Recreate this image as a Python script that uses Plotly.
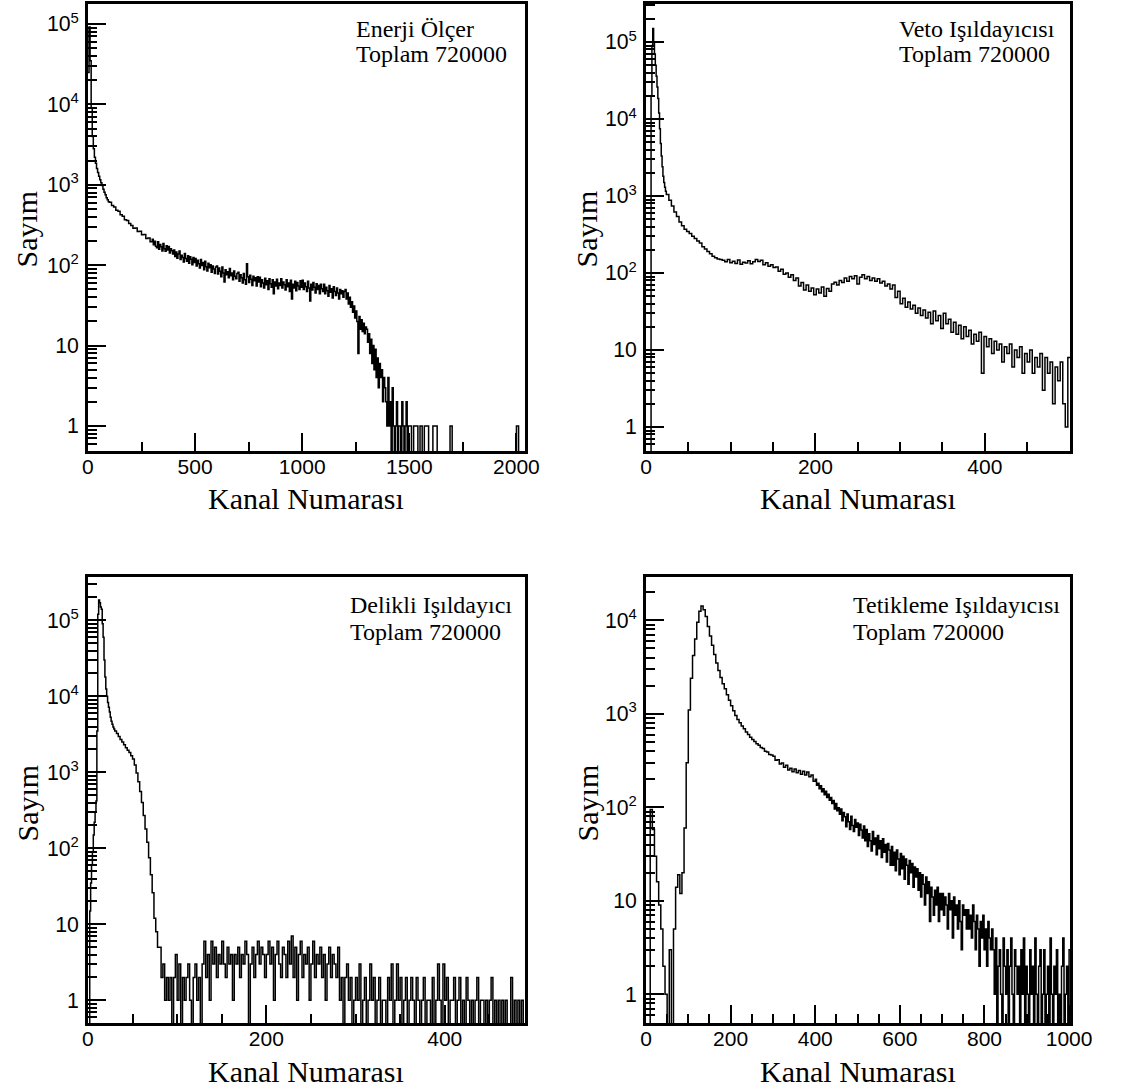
import plotly.graph_objects as go

W, H = 1147, 1090

# ---------------- DATA ----------------
# Panel 1: Enerji Ölçer
enerji_0 = [25000, 92000, 35000, 9000, 4000, 2800, 2200, 1850, 1600, 1420,
            1280, 1160, 1060, 980, 880, 810, 750, 690, 650, 615]          # ch 0-99, 5-ch bins
enerji_1 = [605, 552, 528, 482, 468, 425, 406, 368, 360, 330,
            312, 288, 290, 262, 265, 240, 241, 215, 218, 196]              # ch 100-299, 10-ch bins
enerji_2 = [                                                               # ch 300-1299, 5-ch bins
    210, 180, 198, 172, 165, 196, 158, 181, 170, 150, 186, 160, 149, 175, 155, 171, 142, 160, 151, 138,
    155, 128, 146, 122, 138, 150, 118, 133, 125, 110, 140, 121, 112, 131, 106, 127, 119, 101, 125, 108,
    121, 98, 115, 104, 92, 118, 99, 108, 88, 112, 96, 85, 106, 93, 101, 82, 98, 90, 79, 95,
    98, 78, 92, 84, 72, 95, 80, 62, 88, 76, 83, 70, 91, 74, 80, 66, 85, 73, 68, 79,
    82, 63, 76, 70, 60, 79, 66, 58, 104, 72, 61, 75, 67, 56, 73, 64, 70, 55, 72, 62,
    71, 54, 66, 60, 52, 69, 57, 64, 50, 68, 59, 53, 66, 44, 62, 55, 67, 51, 60, 56,
    68, 52, 62, 57, 49, 66, 54, 60, 47, 65, 38, 58, 52, 63, 48, 61, 55, 50, 64, 53,
    65, 50, 60, 54, 47, 63, 52, 36, 58, 49, 61, 53, 45, 59, 50, 56, 44, 58, 51, 47,
    58, 44, 53, 48, 41, 56, 46, 51, 39, 54, 47, 42, 52, 45, 38, 50, 44, 48, 40, 47,
    50, 38, 45, 33, 40, 30, 35, 26, 31, 22, 27, 20, 8, 23, 16, 21, 15, 19, 14, 17]
enerji_3 = [                                                               # ch 1300-1499, 5-ch bins
    16, 11, 14, 8, 12, 6, 10, 5, 9, 4, 7, 3, 6, 4, 5, 2, 4, 3, 2, 1,
    4, 1, 2, 0, 3, 1, 0, 1, 2, 0, 1, 1, 0, 2, 1, 0, 1, 2, 0, 1]
enerji_4 = [                                                               # ch 1500-2049, 10-ch bins
    1, 0, 1, 1, 0, 1, 0, 1, 1, 0,
    0, 1, 1, 0, 0, 0, 0, 0, 0, 1,
    0, 0, 0, 0, 0, 0, 0, 0, 0, 0,
    0, 0, 0, 0, 0, 0, 0, 0, 0, 0,
    0, 0, 0, 0, 0, 0, 0, 0, 0, 0,
    1, 0, 0, 0, 0]

# Panel 2: Veto Işıldayıcısı
veto_0 = [0, 0, 0, 0, 0, 0, 20000, 90000, 150000, 100000, 70000, 50000,
          36000, 26000, 18500, 12000, 7500, 4800, 3300, 2400, 1800, 1500, 1300, 1150]  # ch 0-23
veto_1 = [                                                                 # ch 24-500, 3-ch bins
    1050, 880, 740, 620, 540, 460, 410, 370, 345, 325,
    300, 280, 260, 245, 220, 205, 190, 178, 165, 158,
    152, 150, 146, 140, 150, 136, 142, 133, 148, 130,
    138, 135, 144, 132, 140, 150, 141, 146, 128, 136,
    122, 128, 118, 120, 105, 112, 96, 100, 88, 95,
    80, 86, 68, 75, 60, 70, 58, 64, 52, 62,
    55, 66, 50, 63, 58, 72, 76, 70, 80, 75,
    86, 78, 90, 84, 92, 72, 88, 95, 84, 90,
    80, 86, 78, 84, 74, 78, 68, 72, 62, 70,
    48, 58, 40, 47, 36, 42, 34, 38, 30, 35,
    28, 33, 26, 31, 22, 32, 24, 28, 19, 30,
    22, 25, 17, 23, 16, 21, 14, 20, 15, 18,
    12, 16, 13, 17, 5, 15, 11, 14, 9, 13,
    10, 12, 7, 11, 9, 12, 6, 10, 8, 11,
    5, 9, 7, 10, 5, 8, 6, 9, 3, 8,
    5, 7, 2, 6, 4, 7, 2, 1, 8]

# Panel 3: Delikli Işıldayıcı
delikli_0 = [0, 0, 15, 35, 60, 90, 150, 220, 300, 420, 3500, 120000, 185000,
             170000, 150000, 140000, 90000, 60000, 30000, 18000, 12500, 10000,
             8300, 7200, 6200, 5300, 4700, 4300, 3950, 3700]                 # ch 0-29
delikli_1 = [3500, 3250, 2950, 2700, 2500, 2300, 2100, 1950, 1820, 1650,
             1500, 1250, 980, 750, 560, 400, 270, 180, 120, 75, 45, 26, 12, 8, 5]  # ch 30-79, 2-ch
delikli_2 = [                                                              # ch 80-489, 2-ch bins
    5, 2, 3, 1, 2, 1, 2, 0, 2, 4, 1, 3, 0, 2, 1, 2, 3, 1, 0, 2, 3, 1, 2, 0, 3,
    6, 2, 4, 1, 6, 3, 5, 2, 4, 3,
    6, 3, 2, 5, 3, 4, 1, 4, 3, 5,
    2, 4, 3, 6, 4, 0, 3, 5, 2, 4,
    6, 3, 5, 4, 2, 4, 6, 3, 5, 1,
    4, 6, 3, 2, 5, 4, 2, 6, 3, 7,
    2, 5, 1, 4, 6, 2, 4, 3, 5, 1,
    3, 6, 2, 4, 3, 5, 2, 4, 1, 3,
    5, 2, 4, 3, 2,
    5, 1, 2, 0, 2, 3, 1, 2, 0, 1,
    2, 1, 3, 0, 1, 2, 0, 1, 3, 1,
    2, 0, 1, 2, 0, 1, 1, 0, 2, 1,
    3, 0, 1, 3, 1, 2, 0, 1, 2, 0,
    1, 2, 1, 0, 2, 1, 0, 1, 2, 0,
    1, 1, 0, 2, 0, 1, 3, 1, 0, 3,
    1, 2, 0, 1, 1, 2, 0, 1, 2, 0,
    1, 0, 2, 1, 0, 1, 0, 1, 2, 0,
    1, 1, 0, 1, 0, 1, 2, 0, 1, 0,
    1, 0, 1, 0, 1, 0, 0, 2, 0, 1,
    0, 1, 0, 1, 0]

# Panel 4: Tetikleme Işıldayıcısı
tetik_0 = [                                                                # ch 0-399, 5-ch bins
    0, 0, 95, 58, 30, 16, 9, 5, 2, 1, 0, 3, 0, 5, 14, 19, 12, 20, 60, 300,
    1100, 2400, 4200, 6300, 9500, 12500, 14200, 13000, 11000, 8600,
    6800, 5400, 4300, 3500, 2900, 2450, 2100, 1850, 1600, 1400,
    1220, 1080, 960, 870, 800, 740, 690, 640, 600, 560,
    530, 505, 478, 462, 436, 425, 398, 390, 366, 362,
    352, 318, 322, 290, 298, 268, 281, 250, 262, 240,
    256, 234, 247, 226, 243, 222, 239, 212, 222, 190]
tetik_1 = [                                                                # ch 400-1002, 3-ch bins
    200, 172, 181, 158, 170, 147, 158, 136, 148, 127, 138, 119, 127, 110, 118, 96, 110, 92, 99, 84,
    96, 72, 88, 79, 62, 85, 70, 58, 80, 64, 55, 74, 61, 68, 50, 66, 57, 47, 63, 44,
    58, 38, 52, 44, 34, 55, 40, 47, 31, 50, 36, 44, 29, 46, 33, 40, 26, 41, 35, 24,
    38, 24, 33, 21, 35, 28, 19, 32, 22, 30, 17, 28, 24, 15, 27, 20, 25, 14, 23, 18,
    22, 13, 20, 11, 19, 15, 9, 18, 12, 16, 6, 14, 11, 7, 13, 9, 14, 6, 12, 8,
    12, 7, 11, 9, 5, 12, 8, 10, 4, 11, 7, 9, 5, 10, 6, 3, 9, 7, 8, 5,
    8, 5, 7, 4, 9, 6, 3, 7, 5, 2, 6, 4, 7, 3, 5, 2, 6, 4, 3, 5,
    3, 1, 4, 0, 2, 3, 1, 0, 4, 2, 1, 3, 0, 2, 4, 1, 0, 3, 2, 1,
    2, 0, 3, 1, 4, 0, 2, 1, 0, 3, 1, 2, 0, 4, 1, 0, 2, 3, 0, 1,
    3, 0, 1, 2, 0, 4, 1, 0, 2, 1, 3, 0, 1, 0, 2, 4, 0, 1, 2, 0,
    3]

basliklar = [("Enerji Ölçer", "Toplam 720000"),
             ("Veto Işıldayıcısı", "Toplam 720000"),
             ("Delikli Işıldayıcı", "Toplam 720000"),
             ("Tetikleme Işıldayıcısı", "Toplam 720000")]
x_etiket = "Kanal Numarası"
y_etiket = "Sayım"


def basamak(segmentler):
    xs, ys = [], []
    for bas, gen, sayim in segmentler:
        for i, v in enumerate(sayim):
            xs.append(bas + i * gen)
            ys.append(v)
    sb, sg, ss = segmentler[-1]
    xs.append(sb + len(ss) * sg)
    ys.append(ss[-1])
    ys = [v if v > 0 else 0.05 for v in ys]
    return xs, ys


panels = [
    dict(segs=[(0, 5, enerji_0), (100, 10, enerji_1), (300, 5, enerji_2),
               (1300, 5, enerji_3), (1500, 10, enerji_4)],
         xpx=(84, 532), ypx=(4, 451), xr=[0, 2040], yr=[-0.311, 5.249],
         xd=500, xm=250, txt=(357, 29, 54), ytl=(22, 229), xtl=(308, 499)),
    dict(segs=[(0, 1, veto_0), (24, 3, veto_1)],
         xpx=(656, 1091), ypx=(4, 451), xr=[0, 501], yr=[-0.312, 5.494],
         xd=200, xm=50, txt=(913, 29, 54), ytl=(596, 229), xtl=(873, 499)),
    dict(segs=[(0, 1, delikli_0), (30, 2, delikli_1), (80, 2, delikli_2)],
         xpx=(84, 532), ypx=(577, 1023), xr=[0, 490], yr=[-0.299, 5.57],
         xd=200, xm=50, txt=(351, 605, 632), ytl=(22, 803), xtl=(308, 1071)),
    dict(segs=[(0, 5, tetik_0), (400, 3, tetik_1)],
         xpx=(656, 1091), ypx=(577, 1023), xr=[0, 1003], yr=[-0.307, 4.463],
         xd=200, xm=50, txt=(866, 605, 632), ytl=(596, 803), xtl=(873, 1071)),
]

fig = go.Figure()
sans = "Liberation Sans, Arial, sans-serif"
serif = "Liberation Serif, Times New Roman, serif"
annotations = []

for i, p in enumerate(panels):
    n = i + 1
    xs, ys = basamak(p["segs"])
    fig.add_trace(go.Scatter(x=xs, y=ys, mode="lines", xaxis=f"x{n}", yaxis=f"y{n}",
                             line=dict(shape="hv", color="black", width=1.5),
                             showlegend=False, hoverinfo="skip"))
    x0, x1 = p["xpx"]
    y0, y1 = p["ypx"]
    ax = dict(domain=[x0 / W, x1 / W], range=p["xr"], anchor=f"y{n}",
              showline=True, linewidth=2.5, linecolor="black", mirror=True,
              ticks="inside", ticklen=18, tickwidth=2, tickcolor="black",
              tickmode="linear", tick0=0, dtick=p["xd"],
              tickfont=dict(family=sans, size=21, color="black"),
              showgrid=False, zeroline=False, ticklabelstandoff=-5,
              minor=dict(ticks="inside", ticklen=9, tickwidth=2, tickcolor="black",
                         tick0=0, dtick=p["xm"], showgrid=False))
    ay = dict(domain=[1 - y1 / H, 1 - y0 / H], type="log", range=p["yr"], anchor=f"x{n}",
              showline=True, linewidth=2.5, linecolor="black", mirror=True,
              ticks="inside", ticklen=18, tickwidth=2, tickcolor="black",
              tickmode="linear", tick0=0, dtick=1, exponentformat="power",
              tickfont=dict(family=sans, size=17, color="black"),
              showgrid=False, zeroline=False, ticklabelstandoff=3,
              minor=dict(ticks="inside", ticklen=9, tickwidth=2, tickcolor="black",
                         dtick="D1", showgrid=False))
    fig.update_layout(**{f"xaxis{n}" if n > 1 else "xaxis": ax,
                         f"yaxis{n}" if n > 1 else "yaxis": ay})
    tx, ty1, ty2 = p["txt"]
    for line, yy in zip(basliklar[i], (ty1, ty2)):
        annotations.append(dict(text=line, x=tx / W, y=1 - yy / H, xref="paper", yref="paper",
                                xanchor="left", yanchor="middle", showarrow=False,
                                font=dict(family=serif, size=24, color="black")))
    annotations.append(dict(text=y_etiket, x=p["ytl"][0] / W, y=1 - p["ytl"][1] / H,
                            xref="paper", yref="paper", xanchor="center", yanchor="middle",
                            textangle=-90, showarrow=False,
                            font=dict(family=serif, size=30, color="black")))
    annotations.append(dict(text=x_etiket, x=p["xtl"][0] / W, y=1 - p["xtl"][1] / H,
                            xref="paper", yref="paper", xanchor="center", yanchor="middle",
                            showarrow=False, font=dict(family=serif, size=30, color="black")))

fig.update_layout(width=W, height=H, autosize=False,
                  margin=dict(l=0, r=0, t=0, b=0),
                  paper_bgcolor="white", plot_bgcolor="white",
                  annotations=annotations, showlegend=False)

fig.write_html("out.html")
